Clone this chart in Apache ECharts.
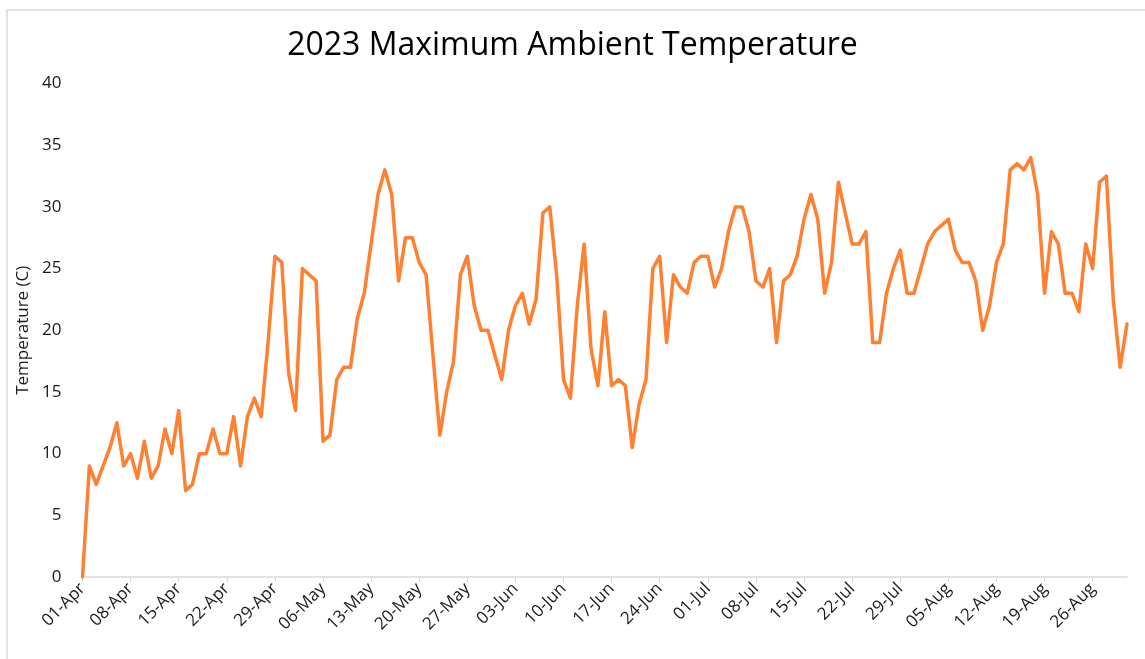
<!DOCTYPE html>
<html>
<head>
<meta charset="utf-8">
<script src="https://cdn.jsdelivr.net/npm/echarts@6/dist/echarts.min.js"></script>
<style>
  html, body { margin: 0; padding: 0; background: #fff; }
  #main { width: 1145px; height: 659px; }
</style>
</head>
<body>
<div id="main"></div>
<script>
// daily max temp, 01-Apr .. 31-Aug 2023
var startDate = '2023-04-01';
var monthNames = ['Jan', 'Feb', 'Mar', 'Apr', 'May', 'Jun', 'Jul', 'Aug', 'Sep', 'Oct', 'Nov', 'Dec'];
var yTicks = [0, 5, 10, 15, 20, 25, 30, 35, 40];

var aprTemps = [0, 9, 7.5, 9, 10.5, 12.5, 9, 10, 8, 11, 8, 9, 12, 10, 13.5, 7, 7.5, 10, 10, 12,
  10, 10, 13, 9, 13, 14.5, 13, 19, 26, 25.5];
var mayTemps = [16.5, 13.5, 25, 24.5, 24, 11, 11.5, 16, 17, 17, 21, 23, 27, 31, 33, 31, 24, 27.5, 27.5, 25.5,
  24.5, 18, 11.5, 15, 17.5, 24.5, 26, 22, 20, 20, 18];
var junTemps = [16, 20, 22, 23, 20.5, 22.5, 29.5, 30, 24.5, 16, 14.5, 22, 27, 18.5, 15.5, 21.5, 15.5, 16, 15.5, 10.5,
  14, 16, 25, 26, 19, 24.5, 23.5, 23, 25.5, 26];
var julTemps = [26, 23.5, 25, 28, 30, 30, 28, 24, 23.5, 25, 19, 24, 24.5, 26, 29, 31, 29, 23, 25.5, 32,
  29.5, 27, 27, 28, 19, 19, 23, 25, 26.5, 23, 23];
var augTemps = [25, 27, 28, 28.5, 29, 26.5, 25.5, 25.5, 24, 20, 22, 25.5, 27, 33, 33.5, 33, 34, 31, 23, 28,
  27, 23, 23, 21.5, 27, 25, 32, 32.5, 22.5, 17, 20.5];

var temps = [].concat(aprTemps, mayTemps, junTemps, julTemps, augTemps);

var days = [];
var d = new Date(startDate + 'T00:00:00');
for (var i = 0; i < temps.length; i++) {
  var dd = d.getDate();
  days.push((dd < 10 ? '0' + dd : '' + dd) + '-' + monthNames[d.getMonth()]);
  d.setDate(d.getDate() + 1);
}

var chart = echarts.init(document.getElementById('main'), null, { renderer: 'canvas' });

var option = {
  backgroundColor: '#fff',
  animation: false,
  textStyle: { fontFamily: 'Open Sans' },
  title: {
    text: '2023 Maximum Ambient Temperature',
    left: 'center',
    top: 25,
    textStyle: { fontFamily: 'Open Sans', fontSize: 32, fontWeight: 'normal', color: '#000' }
  },
  graphic: [{
    type: 'rect',
    shape: { x: 7, y: 10, width: 1160, height: 700 },
    style: { fill: null, stroke: '#d9d9d9', lineWidth: 1.5 },
    silent: true
  }],
  grid: { left: 82.5, right: 18, top: 83.5, bottom: 82 },
  xAxis: {
    type: 'category',
    data: days,
    boundaryGap: false,
    axisLine: { lineStyle: { color: '#d9d9d9', width: 1.5 } },
    axisTick: { interval: 6, length: 5, lineStyle: { color: '#d9d9d9' } },
    axisLabel: {
      interval: 6,
      rotate: 45,
      margin: 9,
      fontFamily: 'Open Sans',
      fontSize: 17,
      color: '#1a1a1a'
    },
    splitLine: { show: false }
  },
  yAxis: {
    type: 'value',
    min: yTicks[0],
    max: yTicks[yTicks.length - 1],
    interval: 5,
    name: 'Temperature (C)',
    nameLocation: 'middle',
    nameGap: 50,
    nameTextStyle: { fontFamily: 'Open Sans', fontSize: 17, color: '#1a1a1a' },
    axisLine: { show: false },
    axisTick: { show: false },
    splitLine: { show: false },
    axisLabel: { margin: 21, fontFamily: 'Open Sans', fontSize: 17, color: '#1a1a1a' }
  },
  series: [{
    name: 'Max Temp',
    type: 'line',
    data: temps,
    showSymbol: false,
    symbol: 'none',
    lineStyle: { color: '#FF8030', width: 3.5, join: 'round', cap: 'round' },
    itemStyle: { color: '#FF8030' }
  }]
};

chart.setOption(option);
</script>
</body>
</html>
